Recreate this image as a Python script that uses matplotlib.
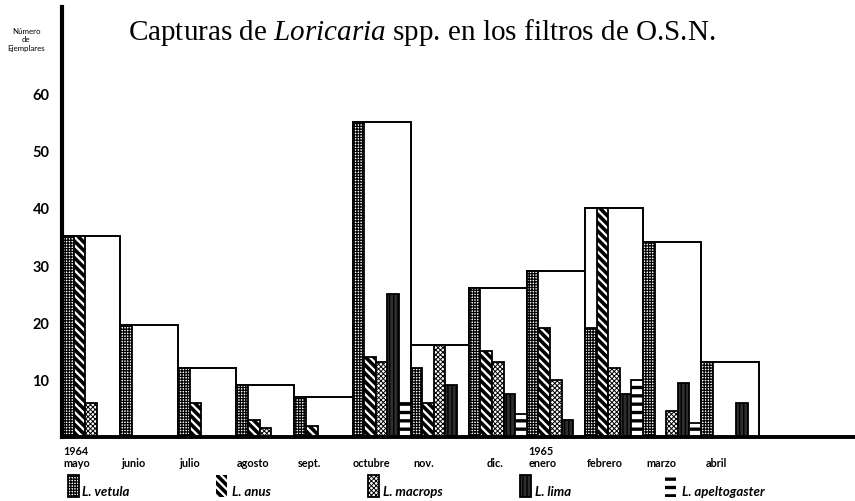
import matplotlib
matplotlib.use('Agg')
import matplotlib.pyplot as plt
from matplotlib.patches import Rectangle
import numpy as np

plt.rcParams['mathtext.fontset'] = 'custom'
plt.rcParams['mathtext.rm'] = 'Liberation Serif'
plt.rcParams['mathtext.it'] = 'Liberation Serif:italic'
plt.rcParams['hatch.linewidth'] = 1.0

months = ['mayo', 'junio', 'julio', 'agosto', 'sept.', 'octubre', 'nov.', 'dic.',
          'enero', 'febrero', 'marzo', 'abril']
year_labels = ['1964', '', '', '', '', '', '', '', '1965', '', '', '']
label_offset = [0.02, 0.03, 0.02, 0.0, 0.05, 0.0, 0.05, 0.3, 0.03, 0.03, 0.05, 0.08]

total = [35, 19.5, 12, 9, 7, 55, 16, 26, 29, 40, 34, 13]
vetula = [35, 19.5, 12, 9, 7, 55, 12, 26, 29, 19, 34, 13]
anus = [35, 0, 6, 3, 2, 14, 6, 15, 19, 40, 0, 0]
macrops = [6, 0, 0, 1.5, 0, 13, 16, 13, 10, 12, 4.5, 0]
lima = [0, 0, 0, 0, 0, 25, 9, 7.5, 3, 7.5, 9.5, 6]
apelto = [0, 0, 0, 0, 0, 6, 0, 4, 0, 10, 2.5, 0]

yticks = [10, 20, 30, 40, 50, 60]
species_names = ['L. vetula', 'L. anus', 'L. macrops', 'L. lima', 'L. apeltogaster']

styles = [
    dict(facecolor='white', edgecolor='black', hatch='++++++', linewidth=1.3, hlw=0.9),
    dict(facecolor='white', edgecolor='black', hatch='\\\\\\\\', linewidth=1.3, hlw=2.6),
    dict(facecolor='white', edgecolor='black', hatch='xxxxxxx', linewidth=1.3, hlw=0.7),
    dict(facecolor='#2e2e2e', edgecolor='black', hatch='||||', linewidth=1.3, hlw=1.0),
    dict(facecolor='white', edgecolor='black', hatch='--', linewidth=1.3, hlw=2.4),
]
series = [vetula, anus, macrops, lima, apelto]

W, H = 855, 502
fig = plt.figure(figsize=(W / 100, H / 100), dpi=100)
ax = fig.add_axes([62 / W, 64 / H, 793 / W, 430 / H])

x = np.arange(len(months))
ax.bar(x, total, width=1, align='edge', facecolor='white', edgecolor='black',
       linewidth=1.4, zorder=1)

w = 0.2
for k, (vals, st) in enumerate(zip(series, styles)):
    st = dict(st)
    hlw = st.pop('hlw')
    xs = [i + k * w for i, v in enumerate(vals) if v > 0]
    hs = [v for v in vals if v > 0]
    with plt.rc_context({'hatch.linewidth': hlw}):
        bars = ax.bar(xs, hs, width=w, align='edge', zorder=2, **st)
    for b in bars:
        if hasattr(b, 'set_hatch_linewidth'):
            b.set_hatch_linewidth(hlw)

ax.set_xlim(0, 793 / 58.1)
ax.set_ylim(0, 75)
for s in ['top', 'right']:
    ax.spines[s].set_visible(False)
ax.spines['left'].set_linewidth(3.0)
ax.spines['bottom'].set_linewidth(2.8)
ax.set_xticks([])
ax.set_yticks(yticks)
ax.set_yticklabels([str(t) for t in yticks], fontfamily='Lato', fontweight='bold', fontsize=10.5)
ax.tick_params(axis='y', length=0, pad=9)

tr = ax.get_xaxis_transform()
for i, (m, yl) in enumerate(zip(months, year_labels)):
    ax.text(i + label_offset[i], -0.068, m, transform=tr, ha='left', va='baseline',
            fontfamily='Lato', fontweight='bold', fontsize=7.8, clip_on=False)
    if yl:
        ax.text(i + label_offset[i], -0.039, yl, transform=tr, ha='left', va='baseline',
                fontfamily='Lato', fontweight='bold', fontsize=7.8, clip_on=False)

fig.text(26 / W, 1 - 40 / H, 'Número\nde\nEjemplares', ha='center', va='center',
         fontfamily='Lato', fontsize=5.7, linespacing=1.3)

fig.text(422 / W, 1 - 40 / H,
         r'Capturas de $\mathit{Loricaria}$ spp. en los filtros de O.S.N.',
         ha='center', va='baseline', fontfamily='Liberation Serif', fontsize=21)

# legend
sw_x = [68, 216, 368, 520, 665]
tx_x = [82, 232, 383, 535, 682]
for k, st in enumerate(styles):
    st = dict(st)
    hlw = st.pop('hlw')
    lw = st.pop('linewidth')
    if k in (1, 4):
        lw = 0
    with plt.rc_context({'hatch.linewidth': hlw}):
        r = Rectangle((sw_x[k] / W, 4 / H), 11 / W, 22 / H, transform=fig.transFigure,
                      linewidth=lw, **st)
    if hasattr(r, 'set_hatch_linewidth'):
        r.set_hatch_linewidth(hlw)
    fig.add_artist(r)
    fig.text(tx_x[k] / W, 6 / H, species_names[k], ha='left', va='baseline',
             fontfamily='Lato', fontweight='bold', fontstyle='italic', fontsize=9.5)

fig.savefig('out.png', dpi=100)
